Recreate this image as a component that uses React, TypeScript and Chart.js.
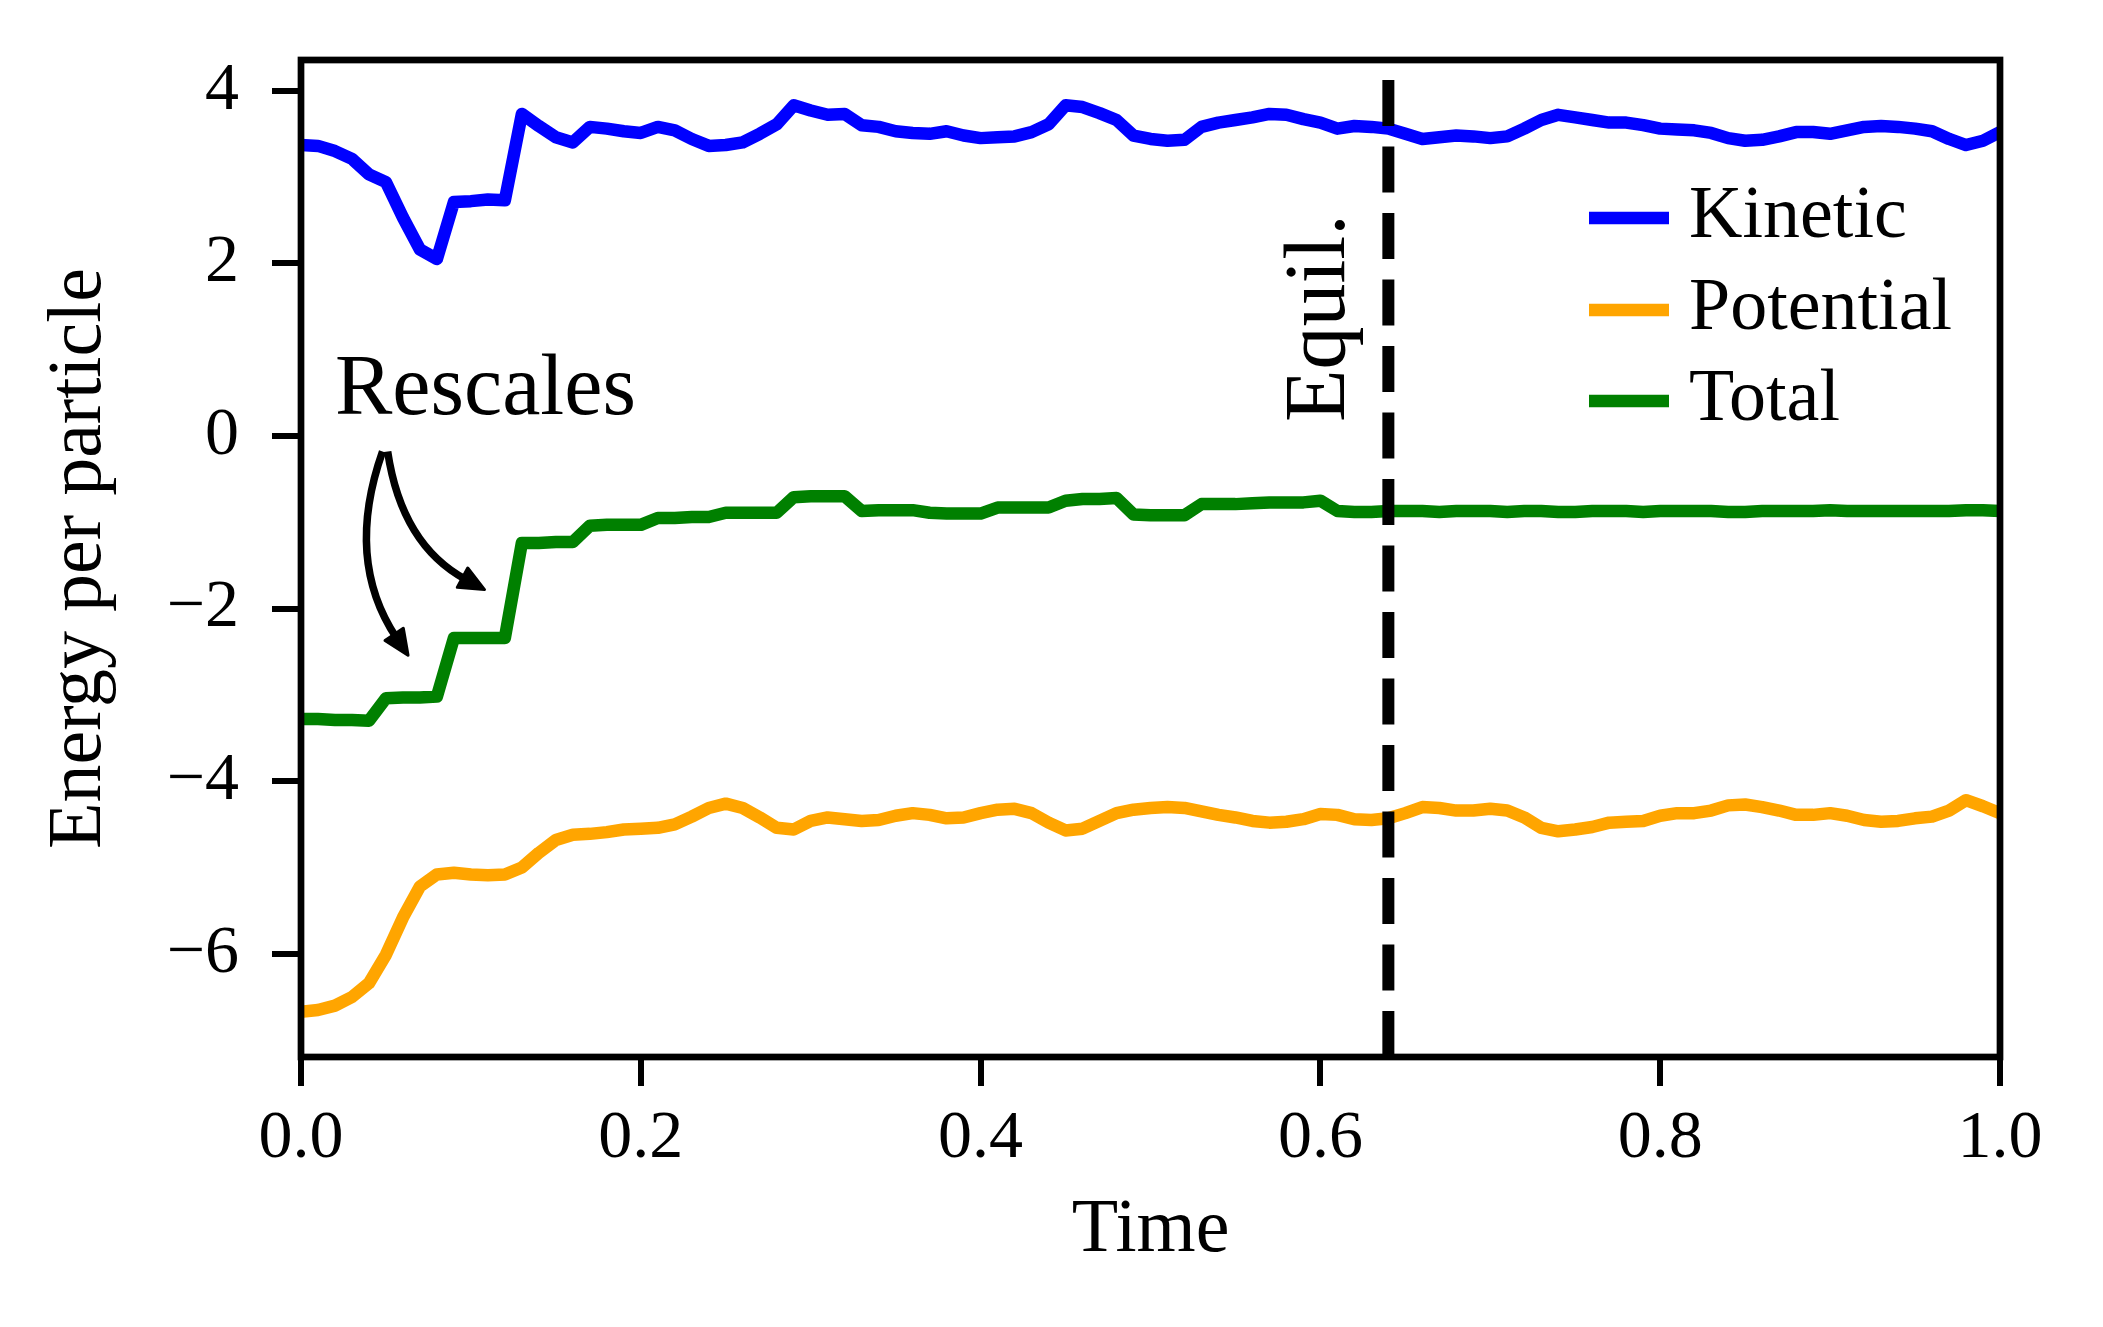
import React, { useEffect, useRef } from 'react';
import { Chart, registerables } from 'chart.js';

Chart.register(...registerables);

const FONT = "'Liberation Serif', 'Times New Roman', serif";

const time = [
  0.00, 0.01, 0.02, 0.03, 0.04, 0.05, 0.06, 0.07, 0.08, 0.09,
  0.10, 0.11, 0.12, 0.13, 0.14, 0.15, 0.16, 0.17, 0.18, 0.19,
  0.20, 0.21, 0.22, 0.23, 0.24, 0.25, 0.26, 0.27, 0.28, 0.29,
  0.30, 0.31, 0.32, 0.33, 0.34, 0.35, 0.36, 0.37, 0.38, 0.39,
  0.40, 0.41, 0.42, 0.43, 0.44, 0.45, 0.46, 0.47, 0.48, 0.49,
  0.50, 0.51, 0.52, 0.53, 0.54, 0.55, 0.56, 0.57, 0.58, 0.59,
  0.60, 0.61, 0.62, 0.63, 0.64, 0.65, 0.66, 0.67, 0.68, 0.69,
  0.70, 0.71, 0.72, 0.73, 0.74, 0.75, 0.76, 0.77, 0.78, 0.79,
  0.80, 0.81, 0.82, 0.83, 0.84, 0.85, 0.86, 0.87, 0.88, 0.89,
  0.90, 0.91, 0.92, 0.93, 0.94, 0.95, 0.96, 0.97, 0.98, 0.99,
  1.00,
];

const kinetic = [
  3.37, 3.36, 3.30, 3.21, 3.03, 2.94, 2.53, 2.16, 2.05, 2.71,
  2.72, 2.74, 2.73, 3.73, 3.59, 3.46, 3.40, 3.58, 3.56, 3.53,
  3.51, 3.58, 3.54, 3.44, 3.36, 3.37, 3.40, 3.50, 3.61, 3.83,
  3.77, 3.72, 3.73, 3.60, 3.58, 3.53, 3.51, 3.50, 3.53, 3.48,
  3.45, 3.46, 3.47, 3.52, 3.61, 3.83, 3.81, 3.74, 3.66, 3.48,
  3.44, 3.42, 3.43, 3.58, 3.63, 3.66, 3.69, 3.73, 3.72, 3.67,
  3.63, 3.56, 3.59, 3.58, 3.56, 3.50, 3.44, 3.46, 3.48, 3.47,
  3.45, 3.47, 3.56, 3.66, 3.72, 3.69, 3.66, 3.63, 3.63, 3.60,
  3.56, 3.55, 3.54, 3.51, 3.45, 3.42, 3.43, 3.47, 3.52, 3.52,
  3.50, 3.54, 3.58, 3.59, 3.58, 3.56, 3.53, 3.44, 3.37, 3.42,
  3.52,
];

const potential = [
  -6.67, -6.65, -6.60, -6.50, -6.34, -6.01, -5.58, -5.22, -5.08, -5.06,
  -5.08, -5.09, -5.08, -5.00, -4.83, -4.68, -4.62, -4.61, -4.59, -4.56,
  -4.55, -4.54, -4.50, -4.41, -4.31, -4.26, -4.31, -4.42, -4.54, -4.56,
  -4.46, -4.42, -4.44, -4.46, -4.45, -4.40, -4.37, -4.39, -4.43, -4.42,
  -4.37, -4.33, -4.32, -4.37, -4.48, -4.57, -4.55, -4.46, -4.37, -4.33,
  -4.31, -4.30, -4.31, -4.35, -4.39, -4.42, -4.46, -4.48, -4.47, -4.44,
  -4.38, -4.39, -4.44, -4.45, -4.43, -4.37, -4.30, -4.31, -4.34, -4.34,
  -4.32, -4.34, -4.42, -4.54, -4.58, -4.56, -4.53, -4.48, -4.47, -4.46,
  -4.40, -4.37, -4.37, -4.34, -4.28, -4.27, -4.30, -4.34, -4.39, -4.39,
  -4.37, -4.40, -4.45, -4.47, -4.46, -4.43, -4.41, -4.34, -4.22, -4.29,
  -4.37,
];

const total = [
  -3.28, -3.28, -3.29, -3.29, -3.30, -3.04, -3.03, -3.03, -3.02, -2.34,
  -2.34, -2.34, -2.34, -1.24, -1.24, -1.23, -1.23, -1.04, -1.03, -1.03,
  -1.03, -0.95, -0.95, -0.94, -0.94, -0.89, -0.89, -0.89, -0.89, -0.71,
  -0.70, -0.70, -0.70, -0.87, -0.86, -0.86, -0.86, -0.89, -0.90, -0.90,
  -0.90, -0.83, -0.83, -0.83, -0.83, -0.75, -0.73, -0.73, -0.72, -0.91,
  -0.92, -0.92, -0.92, -0.79, -0.79, -0.79, -0.78, -0.77, -0.77, -0.77,
  -0.75, -0.87, -0.88, -0.88, -0.87, -0.87, -0.87, -0.88, -0.87, -0.87,
  -0.87, -0.88, -0.87, -0.87, -0.88, -0.88, -0.87, -0.87, -0.87, -0.88,
  -0.87, -0.87, -0.87, -0.87, -0.88, -0.88, -0.87, -0.87, -0.87, -0.87,
  -0.86, -0.87, -0.87, -0.87, -0.87, -0.87, -0.87, -0.87, -0.86, -0.86,
  -0.87,
];

const seriesNames = ['Kinetic', 'Potential', 'Total'];
const seriesColors = ['#0000ff', '#ffa500', '#008000'];

const xTicks = [0, 0.2, 0.4, 0.6, 0.8, 1.0];
const yTicks = [-6, -4, -2, 0, 2, 4];
const xRange = [0, 1];
const yRange = [-7.195, 4.355];
const xTitle = 'Time';
const yTitle = 'Energy per particle';

const equilTime = 0.64;
const equilLabel = 'Equil.';
const equilLabelPos = [0.614, 0.16];

const rescaleLabel = 'Rescales';
const rescaleLabelPos = [0.02, 0.25];
const rescaleArrowStarts = [[0.048, -0.18], [0.051, -0.18]];
const rescaleArrowEnds = [[0.063, -2.54], [0.108, -1.78]];

const overlayPlugin = {
  id: 'overlay',
  afterDatasetsDraw(chart: any) {
    const { ctx, chartArea: a, scales } = chart;
    const xs = scales.x;
    const ys = scales.y;
    ctx.save();
    ctx.fillStyle = '#000';
    ctx.strokeStyle = '#000';

    // "Rescales" label
    ctx.font = `86px ${FONT}`;
    ctx.textAlign = 'left';
    ctx.textBaseline = 'alphabetic';
    ctx.fillText(rescaleLabel, xs.getPixelForValue(rescaleLabelPos[0]), ys.getPixelForValue(rescaleLabelPos[1]));

    // curved arrows (arc3, rad = -0.25)
    const rad = -0.25;
    const headLen = 25;
    const headHalf = 11;
    for (let k = 0; k < rescaleArrowStarts.length; k++) {
      const sx = xs.getPixelForValue(rescaleArrowStarts[k][0]);
      const sy = ys.getPixelForValue(rescaleArrowStarts[k][1]);
      const ex = xs.getPixelForValue(rescaleArrowEnds[k][0]);
      const ey = ys.getPixelForValue(rescaleArrowEnds[k][1]);
      const dx = ex - sx;
      const dy = ey - sy;
      const cx = (sx + ex) / 2 + rad * dy;
      const cy = (sy + ey) / 2 - rad * dx;
      let ux = ex - cx;
      let uy = ey - cy;
      const ul = Math.hypot(ux, uy);
      ux /= ul;
      uy /= ul;
      const bx = ex - ux * headLen;
      const by = ey - uy * headLen;
      ctx.strokeStyle = '#000';
      ctx.fillStyle = '#000';
      ctx.lineWidth = 7.5;
      ctx.lineCap = 'butt';
      ctx.lineJoin = 'round';
      ctx.beginPath();
      ctx.moveTo(sx, sy);
      ctx.quadraticCurveTo(cx, cy, bx + ux * 4, by + uy * 4);
      ctx.stroke();
      ctx.beginPath();
      ctx.moveTo(ex, ey);
      ctx.lineTo(bx - uy * headHalf, by + ux * headHalf);
      ctx.lineTo(bx + uy * headHalf, by - ux * headHalf);
      ctx.closePath();
      ctx.lineWidth = 3;
      ctx.fill();
      ctx.stroke();
    }

    // "Equil." label, rotated
    ctx.save();
    ctx.translate(xs.getPixelForValue(equilLabelPos[0]), ys.getPixelForValue(equilLabelPos[1]));
    ctx.rotate(-Math.PI / 2);
    ctx.font = `86px ${FONT}`;
    ctx.textAlign = 'left';
    ctx.textBaseline = 'alphabetic';
    ctx.fillStyle = '#000';
    ctx.fillText(equilLabel, 0, 0);
    ctx.restore();

    // legend (no frame)
    const rowYs = [a.top + 158, a.top + 250, a.top + 341];
    ctx.font = `74px ${FONT}`;
    ctx.textAlign = 'left';
    ctx.textBaseline = 'middle';
    for (let k = 0; k < seriesNames.length; k++) {
      ctx.strokeStyle = seriesColors[k];
      ctx.lineWidth = 12.5;
      ctx.lineCap = 'butt';
      ctx.beginPath();
      ctx.moveTo(a.right - 411, rowYs[k]);
      ctx.lineTo(a.right - 331, rowYs[k]);
      ctx.stroke();
      ctx.fillStyle = '#000';
      ctx.fillText(seriesNames[k], a.right - 311, rowYs[k]);
    }

    // frame (spines)
    ctx.strokeStyle = '#000';
    ctx.lineWidth = 6.7;
    ctx.lineJoin = 'miter';
    ctx.strokeRect(a.left, a.top, a.right - a.left, a.bottom - a.top);
    ctx.restore();
  },
};

export default function App() {
  const canvasRef = useRef<HTMLCanvasElement | null>(null);

  useEffect(() => {
    const canvas = canvasRef.current;
    if (!canvas) return;
    const seriesData = [kinetic, potential, total];
    const lineSets = seriesNames.map((name, k) => ({
      label: name,
      data: time.map((t, i) => ({ x: t, y: seriesData[k][i] })),
      borderColor: seriesColors[k],
      backgroundColor: seriesColors[k],
      borderWidth: 12.5,
      pointRadius: 0,
      fill: false,
      tension: 0,
      borderJoinStyle: 'round',
      borderCapStyle: 'butt',
    }));
    const chart = new Chart(canvas, {
      type: 'line',
      data: {
        datasets: [
          {
            label: 'equil',
            data: [
              { x: equilTime, y: yRange[0] },
              { x: equilTime, y: yRange[1] },
            ],
            borderColor: '#000',
            backgroundColor: '#000',
            borderWidth: 12,
            borderDash: [46, 20.5],
            pointRadius: 0,
            fill: false,
            borderCapStyle: 'butt',
          },
          lineSets[2],
          lineSets[1],
          lineSets[0],
        ] as any,
      },
      options: {
        responsive: false,
        maintainAspectRatio: false,
        devicePixelRatio: 1,
        animation: false,
        events: [],
        layout: { padding: { left: 0, top: 60, right: 103, bottom: 0 } },
        plugins: {
          legend: { display: false },
          tooltip: { enabled: false },
        },
        scales: {
          x: {
            type: 'linear',
            min: xRange[0],
            max: xRange[1],
            afterBuildTicks: (s: any) => {
              s.ticks = xTicks.map((v) => ({ value: v }));
            },
            afterFit: (s: any) => {
              s.height = 270;
              s.paddingLeft = 0;
              s.paddingRight = 0;
            },
            grid: {
              drawOnChartArea: false,
              drawTicks: true,
              tickLength: 29,
              lineWidth: 6,
              color: '#000',
            },
            border: { display: false },
            ticks: {
              color: '#000',
              font: { family: FONT, size: 68 },
              padding: 12,
              autoSkip: false,
              maxRotation: 0,
              minRotation: 0,
              callback: (v: any) => Number(v).toFixed(1),
            },
            title: {
              display: true,
              text: xTitle,
              color: '#000',
              font: { family: FONT, size: 76 },
              padding: { top: 0, bottom: 50 },
            },
          },
          y: {
            type: 'linear',
            min: yRange[0],
            max: yRange[1],
            afterBuildTicks: (s: any) => {
              s.ticks = yTicks.map((v) => ({ value: v }));
            },
            afterFit: (s: any) => {
              s.width = 301;
              s.paddingTop = 0;
              s.paddingBottom = 0;
            },
            grid: {
              drawOnChartArea: false,
              drawTicks: true,
              tickLength: 29,
              lineWidth: 6,
              color: '#000',
            },
            border: { display: false },
            ticks: {
              color: '#000',
              font: { family: FONT, size: 68 },
              padding: 33,
              autoSkip: false,
              callback: (v: any) => (Number(v) < 0 ? '\u2212' + Math.abs(Number(v)) : String(v)),
            },
            title: {
              display: true,
              text: yTitle,
              color: '#000',
              font: { family: FONT, size: 76 },
              padding: { top: 34, bottom: 0 },
            },
          },
        },
      } as any,
      plugins: [overlayPlugin],
    });
    return () => {
      chart.destroy();
    };
  }, []);

  return (
    <div
      style={{
        position: 'absolute',
        left: 0,
        top: 0,
        width: 2103,
        height: 1327,
        background: '#fff',
      }}
    >
      <canvas
        ref={canvasRef}
        width={2103}
        height={1327}
        style={{ display: 'block', width: '2103px', height: '1327px' }}
      />
    </div>
  );
}
